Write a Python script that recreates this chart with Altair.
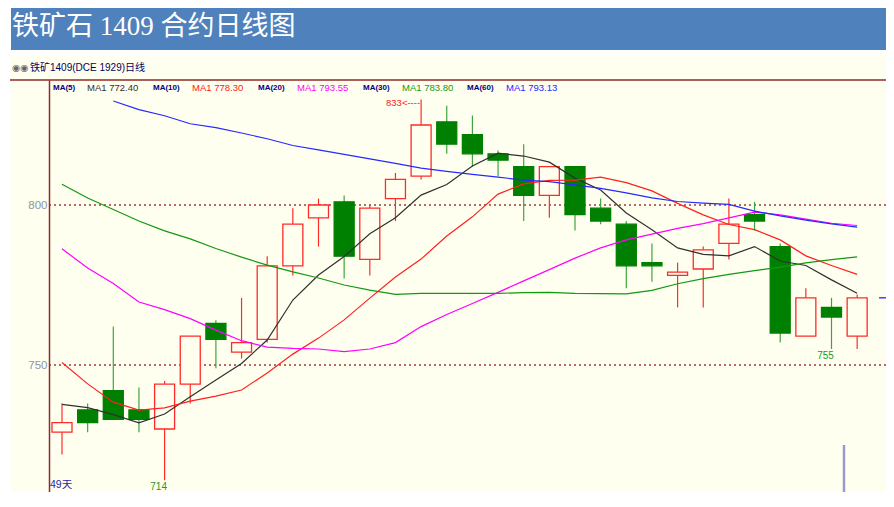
import altair as alt
import pandas as pd

# ---------------- data ----------------
idx = list(range(1, 33))
open_ = [729, 736, 742, 736, 730, 744, 763, 754, 758, 781, 796, 801, 783, 802, 809, 826,
         822, 816, 812, 803, 812, 799, 794, 782, 778, 780, 788, 797, 787, 759, 768, 759]
close = [732, 732, 733, 733, 744, 759, 758, 757, 781, 794, 800, 784, 799, 808, 825, 819,
         816, 814, 803, 812, 797, 795, 781, 781, 779, 786, 794, 795, 760, 771, 765, 771]
high = [738, 738, 762, 743, 745, 759, 764, 771, 784, 799, 802, 803, 800, 810, 833, 831,
        828, 817, 819, 812, 812, 802, 795, 788, 782, 787, 802, 801, 788, 774, 771, 772]
low = [722, 729, 733, 729, 714, 738, 749, 752, 757, 778, 787, 777, 778, 795, 808, 816,
       812, 809, 795, 796, 792, 794, 774, 776, 768, 768, 783, 792, 757, 759, 755, 755]

ma5 = [737.7, 736.7, 734.5, 731.9, 734.7, 740.1, 745.3, 750.5, 757.8, 770.3, 778.1, 783.9,
       791.0, 796.0, 803.1, 806.4, 812.2, 816.2, 815.3, 813.4, 808.4, 804.7, 797.5, 792.3,
       786.6, 784.6, 784.1, 787.0, 782.5, 781.1, 776.6, 772.4]
ma10 = [750.8, 744.1, 738.4, 735.9, 736.6, 738.7, 740.3, 742.2, 747.5, 753.4, 758.4, 764.1,
        770.9, 777.5, 783.1, 790.3, 796.3, 803.4, 806.6, 807.7, 807.8, 808.7, 807.0, 804.4,
        800.5, 796.9, 793.9, 792.3, 789.1, 784.1, 781.1, 778.3]
ma20 = [786.3, 780.3, 775.5, 769.7, 767.3, 764.5, 760.9, 757.6, 755.6, 755.2, 755.0, 754.2,
        755.0, 757.0, 762.0, 765.8, 769.2, 772.7, 776.3, 779.8, 783.4, 786.6, 789.1, 790.9,
        792.7, 794.2, 796.0, 797.8, 796.9, 795.6, 794.3, 793.6]
ma30 = [806.5, 802.2, 798.6, 795.0, 791.9, 789.4, 786.4, 783.7, 781.2, 779.1, 777.2, 775.0,
        773.4, 772.1, 772.4, 772.4, 772.4, 772.4, 772.6, 772.7, 772.4, 772.3, 772.2, 773.3,
        775.4, 777.0, 778.3, 779.5, 780.6, 781.9, 782.9, 783.8]
ma60 = [None, None, 832.5, 829.8, 827.9, 825.4, 824.2, 822.5, 820.7, 818.6, 817.2, 815.8,
        814.4, 813.0, 811.5, 810.5, 809.6, 808.7, 807.8, 807.3, 806.3, 805.2, 803.8, 802.2,
        801.1, 800.6, 800.2, 798.1, 796.6, 795.3, 794.1, 793.1]

ma_names = ["MA(5)", "MA(10)", "MA(20)", "MA(30)", "MA(60)"]
ma_last = [772.40, 778.30, 793.55, 783.80, 793.13]
y_ticks = [750, 800]
high_mark_idx = [15]
low_mark_idx = [5, 31]
title_text = "铁矿石 1409 合约日线图"
subtitle_text = "铁矿1409(DCE 1929)日线"
days_text = "49天"

# ---------------- styling ----------------
BG = "#FFFFF0"
BAR_BLUE = "#4F81BD"
DARK_RED = "#8E2A2A"
RED = "#FF2A2A"
GREEN = "#008000"
GREEN_WICK = "#3DA53D"
MA_COLORS = ["#303030", "#FF2020", "#FF00FF", "#119911", "#2828FF"]
SANS = "Liberation Sans, Arial, Noto Sans CJK SC, sans-serif"

W, H = 837, 412
xscale = alt.Scale(domain=[0.49318, 33.1248], nice=False, zero=False, padding=0)
yscale = alt.Scale(domain=[710.3125, 839.0625], nice=False, zero=False, padding=0)
X = alt.X("idx:Q", scale=xscale, axis=None)
yaxis = alt.Axis(values=y_ticks, grid=False, ticks=False, domain=True, domainColor=DARK_RED,
                 domainWidth=1.5, labelColor="#8A96A3", labelFont=SANS, labelFontSize=11.5,
                 labelPadding=2, title=None, zindex=1)

cdf = pd.DataFrame({"idx": idx, "open": open_, "close": close, "high": high, "low": low})
cdf["dir"] = ["up" if c >= o else "down" for o, c in zip(open_, close)]

rows = []
for name, arr in zip(ma_names, [ma5, ma10, ma20, ma30, ma60]):
    for i, v in zip(idx, arr):
        if v is not None:
            rows.append({"idx": i, "value": v, "series": name})
mdf = pd.DataFrame(rows)

one = pd.DataFrame({"k": [0]})


def Y(field):
    return alt.Y(field, scale=yscale, axis=yaxis)


def txt(text, x, y, **kw):
    return alt.Chart(pd.DataFrame({"t": [text]})).mark_text(**kw).encode(
        x=alt.value(x), y=alt.value(y), text="t:N")


layers = []
# yellow background
layers.append(alt.Chart(one).mark_rect(color=BG).encode(
    x=alt.value(-38), x2=alt.value(W), y=alt.value(-25), y2=alt.value(H)))
# blue title bar
layers.append(alt.Chart(one).mark_rect(color=BAR_BLUE).encode(
    x=alt.value(-38), x2=alt.value(W), y=alt.value(-72), y2=alt.value(-30)))
layers.append(txt(title_text, -37, -53, align="left", baseline="middle", fontSize=27,
                  font="Liberation Serif, Noto Sans CJK SC, serif", color="white"))
# subtitle
layers.append(txt("◉◉", -37, -12, align="left", baseline="middle", fontSize=9.5,
                  font="DejaVu Sans", color="#666666"))
layers.append(txt(subtitle_text, -19, -12, align="left", baseline="middle", fontSize=10,
                  font=SANS, color="#000060"))
# top dark red separator
layers.append(alt.Chart(one).mark_rule(color=DARK_RED, strokeWidth=1.5).encode(
    x=alt.value(-39), x2=alt.value(W), y=alt.value(0)))
# dotted price levels (with y axis)
layers.append(alt.Chart(pd.DataFrame({"v": y_ticks})).mark_rule(
    color="#A03A3A", strokeDash=[2, 3], strokeWidth=1.3).encode(y=Y("v:Q")))

# legend row
name_x = [4, 104, 209, 314, 418]
val_x = [38, 143, 248, 353, 457]
for n, v, c, nx, vx in zip(ma_names, ma_last, MA_COLORS, name_x, val_x):
    layers.append(txt(n, nx, 8, align="left", baseline="middle", fontSize=8,
                      font=SANS, fontWeight="bold", color="#000080"))
    layers.append(txt(f"MA1 {v:.2f}", vx, 8, align="left", baseline="middle",
                      fontSize=9.5, font=SANS, color=c))

# candles
for d, wc in [("up", RED), ("down", GREEN_WICK)]:
    base = alt.Chart(cdf).transform_filter(alt.datum.dir == d)
    layers.append(base.mark_rule(color=wc, strokeWidth=1.2).encode(
        x=X, y=Y("low:Q"), y2="high:Q"))
for d, fc, sc in [("up", BG, RED), ("down", GREEN, GREEN)]:
    base = alt.Chart(cdf).transform_filter(alt.datum.dir == d)
    layers.append(base.mark_bar(size=20, fill=fc, stroke=sc, strokeWidth=1.3).encode(
        x=X, y=Y("open:Q"), y2="close:Q"))

# moving averages
layers.append(alt.Chart(mdf).mark_line(strokeWidth=1.2).encode(
    x=X, y=Y("value:Q"),
    color=alt.Color("series:N", scale=alt.Scale(domain=ma_names, range=MA_COLORS), legend=None)))

# annotations
hdf = cdf[cdf["idx"].isin(high_mark_idx)].copy()
hdf["label"] = [f"{h:.0f}<----" for h in hdf["high"]]
layers.append(alt.Chart(hdf).mark_text(align="right", baseline="middle", dx=-1, dy=4,
                                        fontSize=9.5, font=SANS, color="#FF2020").encode(
    x=X, y=Y("high:Q"), text="label:N"))
ldf = cdf[cdf["idx"].isin(low_mark_idx)].copy()
ldf["label"] = [f"{v:.0f}" for v in ldf["low"]]
layers.append(alt.Chart(ldf).mark_text(align="center", baseline="middle", dx=-6, dy=7,
                                        fontSize=10, font=SANS, color="#229922").encode(
    x=X, y=Y("low:Q"), text="label:N"))

layers.append(txt(days_text, 1, 405, align="left", baseline="middle", fontSize=10.5,
                  font=SANS, color="#2828A0"))

# last price marker at right edge
last = cdf[cdf["idx"] == idx[-1]]
layers.append(alt.Chart(last).mark_rule(color="#4040FF", strokeWidth=1.5).encode(
    x=alt.value(W - 7), x2=alt.value(W), y=Y("close:Q")))
# vertical cursor bar
layers.append(alt.Chart(one).mark_rule(color="#9A9ACC", strokeWidth=2.5).encode(
    x=alt.value(795), y=alt.value(365), y2=alt.value(H)))

chart = alt.layer(*layers).properties(
    width=W, height=H,
    padding={"left": 41, "top": 72, "right": 0, "bottom": 0},
    autosize=alt.AutoSizeParams(type="none"),
).configure_view(stroke=None).configure(background="white")

chart.save("out.html", embed_options={"renderer": "svg", "actions": False})
